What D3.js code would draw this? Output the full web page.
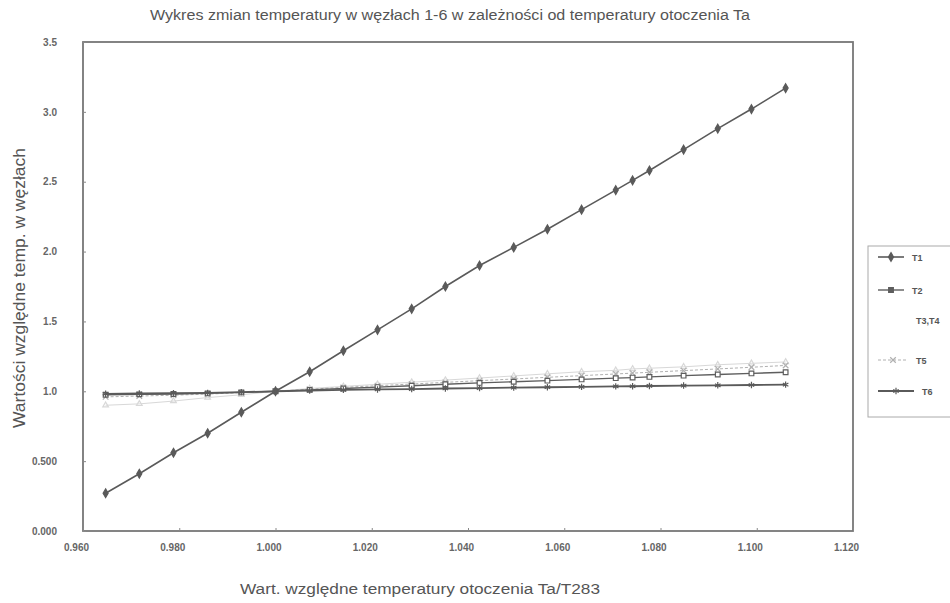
<!DOCTYPE html>
<html>
<head>
<meta charset="utf-8">
<script src="https://cdn.jsdelivr.net/npm/d3@7"></script>
<style>
  html, body { margin: 0; padding: 0; background: #ffffff; }
  svg { display: block; font-family: "Liberation Sans", Arial, sans-serif; }
</style>
</head>
<body>
<svg id="chart" width="950" height="603"></svg>
<script>
// ---------- data ----------
const titleText = "Wykres zmian temperatury w węzłach 1-6 w zależności od temperatury otoczenia Ta";
const xTitle = "Wart. względne temperatury otoczenia Ta/T283";
const yTitle = "Wartości względne temp. w węzłach";

const xTickValues = [0.96, 0.98, 1.00, 1.02, 1.04, 1.06, 1.08, 1.10, 1.12];
const xTickLabels = ["0.960", "0.980", "1.000", "1.020", "1.040", "1.060", "1.080", "1.100", "1.120"];
const yTickValues = [0, 0.5, 1.0, 1.5, 2.0, 2.5, 3.0, 3.5];
const yTickLabels = ["0.000", "0.500", "1.0", "1.5", "2.0", "2.5", "3.0", "3.5"];

// relative ambient temperature Ta/T283
const xValues = [0.9647, 0.9717, 0.9788, 0.9859, 0.9929, 1.0000, 1.0071, 1.0141, 1.0212, 1.0283,
                 1.0353, 1.0424, 1.0495, 1.0565, 1.0636, 1.0707, 1.0742, 1.0777, 1.0848, 1.0919,
                 1.0989, 1.1060];

const T1 = [0.27, 0.41, 0.56, 0.70, 0.85, 1.00, 1.14, 1.29, 1.44, 1.59, 1.75, 1.90, 2.03, 2.16,
            2.30, 2.44, 2.51, 2.58, 2.73, 2.88, 3.02, 3.17];
const T2 = [0.975, 0.978, 0.981, 0.985, 0.992, 1.000, 1.010, 1.020, 1.030, 1.040, 1.050, 1.060,
            1.068, 1.076, 1.085, 1.094, 1.098, 1.103, 1.112, 1.120, 1.128, 1.136];
const T34 = [0.90, 0.91, 0.93, 0.955, 0.975, 1.000, 1.02, 1.035, 1.05, 1.065, 1.08, 1.095,
             1.11, 1.125, 1.14, 1.15, 1.16, 1.165, 1.175, 1.19, 1.20, 1.21];
const T5 = [0.960, 0.966, 0.972, 0.980, 0.990, 1.000, 1.015, 1.028, 1.040, 1.052, 1.064, 1.076,
            1.088, 1.100, 1.112, 1.124, 1.130, 1.136, 1.148, 1.160, 1.172, 1.185];
const T6 = [0.982, 0.984, 0.986, 0.989, 0.994, 1.000, 1.005, 1.010, 1.013, 1.016, 1.020, 1.023,
            1.026, 1.029, 1.032, 1.035, 1.036, 1.038, 1.041, 1.043, 1.045, 1.048];

const seriesNames = ["T1", "T2", "T3,T4", "T5", "T6"];
const seriesValues = [T1, T2, T34, T5, T6];

// ---------- styles ----------
const styles = [
  { color: "#5a5a5a", width: 1.6, dash: null, symbol: d3.symbolDiamond, size: 22, fill: true },
  { color: "#5e5e5e", width: 1.4, dash: null, symbol: d3.symbolSquare, size: 22, fill: false },
  { color: "#d8d8d8", width: 1.0, dash: null, symbol: d3.symbolTriangle, size: 14, fill: false },
  { color: "#b0b0b0", width: 1.0, dash: "3,2", symbol: d3.symbolTimes, size: 22, fill: false },
  { color: "#5a5a5a", width: 1.8, dash: null, symbol: d3.symbolAsterisk, size: 28, fill: false }
];

const svg = d3.select("#chart");
const plot = { left: 83, right: 853, top: 42, bottom: 531 };

const x = d3.scaleLinear().domain([0.96, 1.12]).range([plot.left, plot.right]);
const y = d3.scaleLinear().domain([0, 3.5]).range([plot.bottom, plot.top]);

// title
svg.append("text")
  .attr("x", 450).attr("y", 20)
  .attr("text-anchor", "middle")
  .attr("font-size", 14)
  .attr("fill", "#555")
  .attr("textLength", 600).attr("lengthAdjust", "spacingAndGlyphs")
  .text(titleText);

// frame
svg.append("rect")
  .attr("x", plot.left).attr("y", plot.top)
  .attr("width", plot.right - plot.left).attr("height", plot.bottom - plot.top)
  .attr("fill", "none").attr("stroke", "#777").attr("stroke-width", 1.8);

// x axis
const xAxis = d3.axisBottom(x)
  .tickValues(xTickValues)
  .tickFormat((d, i) => xTickLabels[i])
  .tickSize(-3).tickPadding(13);
const gx = svg.append("g").attr("transform", `translate(0,${plot.bottom})`).call(xAxis);
gx.select(".domain").remove();
gx.selectAll("line").attr("stroke", "#888");
gx.selectAll("text").attr("font-size", 10).attr("font-weight", "bold").attr("fill", "#666").attr("dx", -7);

// y axis
const yAxis = d3.axisLeft(y)
  .tickValues(yTickValues)
  .tickFormat((d, i) => yTickLabels[i])
  .tickSize(-3).tickPadding(26);
const gy = svg.append("g").attr("transform", `translate(${plot.left},0)`).call(yAxis);
gy.select(".domain").remove();
gy.selectAll("line").attr("stroke", "#888");
gy.selectAll("text").attr("font-size", 10).attr("font-weight", "bold").attr("fill", "#666");

// axis titles
svg.append("text")
  .attr("x", 240).attr("y", 594)
  .attr("font-size", 14).attr("fill", "#555")
  .attr("textLength", 360).attr("lengthAdjust", "spacingAndGlyphs")
  .text(xTitle);
svg.append("text")
  .attr("transform", "translate(25,288) rotate(-90)")
  .attr("text-anchor", "middle")
  .attr("font-size", 16).attr("fill", "#555")
  .attr("textLength", 280).attr("lengthAdjust", "spacingAndGlyphs")
  .text(yTitle);

// series (draw light first, dark on top)
const order = [2, 3, 1, 4, 0];
const line = d3.line().x((d, i) => x(xValues[i])).y(d => y(d));
order.forEach(k => {
  const st = styles[k];
  const g = svg.append("g");
  g.append("path")
    .datum(seriesValues[k])
    .attr("d", line)
    .attr("fill", "none")
    .attr("stroke", st.color)
    .attr("stroke-width", st.width)
    .attr("stroke-dasharray", st.dash);
  g.selectAll("path.m")
    .data(seriesValues[k])
    .join("path")
    .attr("class", "m")
    .attr("transform", (d, i) => `translate(${x(xValues[i])},${y(d)})`)
    .attr("d", d3.symbol().type(st.symbol).size(st.size))
    .attr("fill", st.fill ? st.color : (st.symbol === d3.symbolSquare ? "#fff" : "none"))
    .attr("stroke", st.color)
    .attr("stroke-width", 1.2);
});

// legend
const lg = svg.append("g");
lg.append("rect")
  .attr("x", 868).attr("y", 246).attr("width", 90).attr("height", 171)
  .attr("fill", "#fff").attr("stroke", "#aaa").attr("stroke-width", 1);
const legY = [257, 290, 324, 360, 391];
const legLineEnd = [904, 904, 904, 908, 914];
const legTextX = [912, 912, 916, 916, 922];
seriesNames.forEach((name, k) => {
  const st = styles[k];
  const yy = legY[k];
  if (k !== 2) {
    lg.append("line")
      .attr("x1", 878).attr("x2", legLineEnd[k]).attr("y1", yy).attr("y2", yy)
      .attr("stroke", st.color).attr("stroke-width", st.width)
      .attr("stroke-dasharray", st.dash);
    lg.append("path")
      .attr("transform", `translate(${(878 + legLineEnd[k]) / 2},${yy})`)
      .attr("d", d3.symbol().type(st.symbol).size(st.size))
      .attr("fill", st.fill ? st.color : (st.symbol === d3.symbolSquare ? st.color : "none"))
      .attr("stroke", st.color).attr("stroke-width", 1.2);
  }
  lg.append("text")
    .attr("x", legTextX[k]).attr("y", yy + (k === 2 ? 0 : 4))
    .attr("font-size", 9).attr("font-weight", "bold").attr("fill", "#555")
    .text(name);
});
</script>
</body>
</html>
